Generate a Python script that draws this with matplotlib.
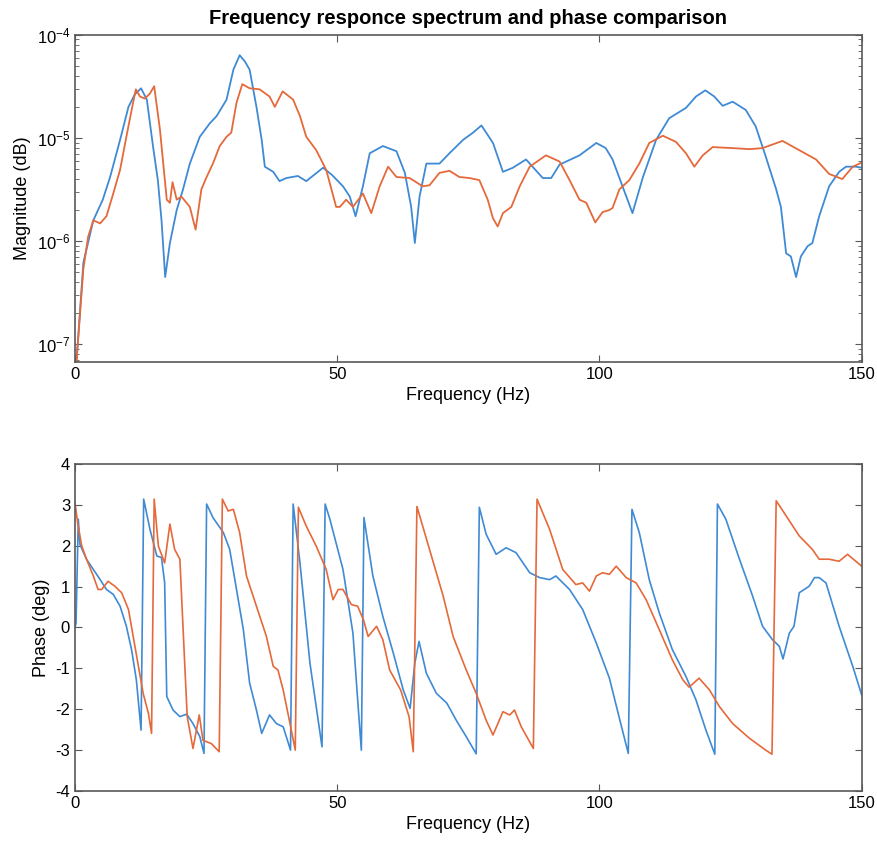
import numpy as np
import matplotlib
matplotlib.use("Agg")
import matplotlib.pyplot as plt
from matplotlib.ticker import LogLocator, NullFormatter, MultipleLocator

plt.rcParams['font.family'] = ['Liberation Sans', 'DejaVu Sans']
plt.rcParams['axes.unicode_minus'] = False

# magnitude, series 1 (blue): frequency (Hz), log10 of magnitude
mag1_f = [0.0, 0.3, 1.6, 3.5, 5.3, 6.7, 8.6, 10.2, 11.4, 12.6, 13.7, 14.9, 15.8, 16.5, 17.2,
          18.1, 19.4, 20.6, 21.9, 23.8, 25.7, 27.0, 28.9, 30.2, 31.4, 32.4, 33.3, 34.6, 35.6,
          36.2, 37.8, 39.0, 40.3, 42.5, 44.1, 47.3, 49.0, 51.1, 52.4, 53.5, 54.9, 56.2, 58.7,
          61.3, 62.9, 64.1, 64.8, 65.7, 67.0, 69.5, 71.4, 74.0, 75.9, 77.5, 79.7, 81.6, 83.5,
          86.0, 89.2, 90.8, 92.4, 96.2, 99.4, 101.2, 102.5, 104.4, 106.3, 108.3, 110.8, 113.3,
          116.5, 118.4, 120.2, 121.9, 123.5, 125.4, 127.9, 129.8, 131.7, 133.7, 134.6, 135.6,
          136.5, 137.5, 138.4, 139.7, 140.6, 141.9, 143.8, 145.7, 147.0, 148.9, 150.0]
mag1_db = [-7.25, -7.16, -6.21, -5.80, -5.60, -5.38, -5.02, -4.70, -4.58, -4.52, -4.63, -5.09,
           -5.41, -5.80, -6.35, -6.02, -5.70, -5.50, -5.25, -4.99, -4.86, -4.79, -4.63, -4.34,
           -4.20, -4.26, -4.34, -4.70, -5.02, -5.28, -5.33, -5.42, -5.39, -5.37, -5.42, -5.29,
           -5.36, -5.47, -5.57, -5.76, -5.47, -5.15, -5.08, -5.13, -5.34, -5.67, -6.02, -5.57,
           -5.25, -5.25, -5.15, -5.02, -4.95, -4.88, -5.05, -5.33, -5.29, -5.21, -5.39, -5.39,
           -5.26, -5.17, -5.05, -5.10, -5.21, -5.47, -5.73, -5.38, -5.02, -4.81, -4.71, -4.60,
           -4.54, -4.60, -4.69, -4.65, -4.73, -4.89, -5.18, -5.50, -5.67, -6.12, -6.15, -6.35,
           -6.15, -6.05, -6.02, -5.76, -5.47, -5.33, -5.28, -5.28, -5.29]

# magnitude, series 2 (orange)
mag2_f = [0.0, 0.3, 1.6, 2.5, 3.5, 4.8, 6.0, 7.3, 8.6, 9.8, 10.8, 11.6, 12.4, 13.3, 14.3, 15.1,
          16.2, 17.5, 18.1, 18.6, 19.4, 20.3, 21.9, 23.0, 24.1, 25.1, 26.3, 27.6, 28.9, 29.8,
          30.8, 31.9, 33.3, 35.2, 37.1, 38.1, 39.6, 41.6, 42.9, 44.1, 46.0, 47.9, 49.8, 50.5,
          51.7, 53.0, 54.9, 56.5, 58.1, 59.7, 61.3, 63.8, 66.3, 67.6, 69.5, 71.4, 73.3, 75.2,
          77.1, 78.7, 79.7, 80.6, 81.6, 83.2, 84.8, 86.7, 89.8, 92.4, 94.3, 96.2, 97.5, 99.2,
          100.6, 101.9, 102.5, 103.8, 105.7, 107.6, 109.5, 112.1, 114.6, 116.5, 118.1, 119.7,
          121.6, 125.4, 128.6, 131.1, 134.9, 138.1, 141.3, 143.8, 146.3, 148.3, 150.0]
mag2_db = [-7.25, -7.16, -6.27, -5.96, -5.80, -5.83, -5.76, -5.54, -5.31, -4.99, -4.73, -4.53,
           -4.60, -4.62, -4.57, -4.50, -4.92, -5.60, -5.63, -5.43, -5.60, -5.57, -5.67, -5.89,
           -5.50, -5.38, -5.25, -5.08, -4.99, -4.95, -4.66, -4.48, -4.52, -4.53, -4.60, -4.70,
           -4.55, -4.63, -4.79, -4.99, -5.12, -5.31, -5.67, -5.67, -5.60, -5.67, -5.54, -5.73,
           -5.47, -5.28, -5.38, -5.39, -5.47, -5.46, -5.34, -5.32, -5.38, -5.39, -5.41, -5.60,
           -5.78, -5.86, -5.73, -5.67, -5.47, -5.28, -5.17, -5.23, -5.41, -5.60, -5.63, -5.82,
           -5.72, -5.70, -5.68, -5.50, -5.41, -5.25, -5.05, -4.98, -5.04, -5.15, -5.28, -5.17,
           -5.09, -5.10, -5.11, -5.10, -5.03, -5.12, -5.21, -5.35, -5.40, -5.28, -5.24]

# phase, series 1 (blue)
ph1_f = [0.0, 0.2, 0.63, 0.95, 2.2, 3.5, 4.8, 6.0, 7.3, 8.6, 9.8, 10.8, 11.7, 12.6, 13.1, 14.3,
         15.6, 16.5, 17.1, 17.5, 18.7, 20.0, 21.3, 22.5, 23.8, 24.6, 25.1, 26.3, 28.3, 29.5,
         30.8, 32.1, 33.3, 34.6, 35.6, 37.1, 38.4, 39.7, 41.1, 41.6, 42.9, 44.8, 47.1, 47.7,
         48.6, 51.1, 53.0, 53.9, 54.6, 55.1, 56.8, 58.7, 60.7, 62.6, 63.9, 64.8, 65.6, 67.0,
         68.9, 70.9, 72.7, 74.6, 76.5, 77.1, 78.4, 80.3, 82.2, 84.1, 86.7, 88.6, 90.5, 91.7,
         94.3, 96.8, 99.4, 101.9, 103.9, 105.5, 106.2, 107.6, 109.5, 111.4, 113.9, 116.5,
         118.4, 120.3, 122.0, 122.5, 124.1, 126.7, 129.2, 131.1, 133.0, 134.3, 135.0, 136.2,
         137.1, 138.1, 140.0, 141.0, 141.9, 143.2, 145.7, 148.3, 150.0]
ph1_deg = [0.0, 0.11, 2.65, 2.03, 1.67, 1.42, 1.17, 0.93, 0.81, 0.52, 0.03, -0.55, -1.28, -2.51,
           3.14, 2.40, 1.75, 1.71, 1.09, -1.69, -2.02, -2.18, -2.12, -2.35, -2.67, -3.08, 3.02,
           2.69, 2.32, 1.91, 0.93, -0.05, -1.36, -2.02, -2.59, -2.14, -2.35, -2.43, -3.0, 3.02,
           1.58, -0.87, -2.92, 3.02, 2.65, 1.42, -0.14, -1.77, -3.0, 2.69, 1.26, 0.27, -0.63,
           -1.53, -1.98, -0.87, -0.34, -1.12, -1.61, -1.85, -2.27, -2.67, -3.09, 2.94, 2.28,
           1.79, 1.95, 1.83, 1.34, 1.22, 1.17, 1.26, 0.93, 0.44, -0.38, -1.24, -2.27, -3.08,
           2.89, 2.32, 1.17, 0.36, -0.54, -1.20, -1.77, -2.51, -3.10, 3.02, 2.65, 1.67, 0.77,
           0.03, -0.30, -0.46, -0.77, -0.14, 0.03, 0.85, 1.01, 1.22, 1.22, 1.09, 0.03, -0.95,
           -1.65]

# phase, series 2 (orange)
ph2_f = [0.0, 0.6, 1.3, 2.2, 3.5, 4.4, 5.1, 6.3, 7.6, 8.9, 10.2, 11.1, 12.1, 13.0, 14.0, 14.6,
         15.1, 15.9, 17.1, 18.1, 19.0, 20.0, 20.8, 21.4, 22.5, 23.7, 24.4, 26.0, 27.5, 28.1,
         29.2, 30.2, 31.4, 32.7, 34.6, 36.5, 37.8, 38.7, 39.7, 41.0, 42.0, 42.6, 44.1, 46.0,
         47.9, 49.2, 50.2, 51.1, 52.7, 53.9, 55.0, 55.9, 57.5, 58.7, 60.0, 62.1, 63.7, 64.5,
         65.2, 67.6, 70.2, 72.1, 74.6, 76.5, 78.4, 79.7, 81.6, 82.9, 83.8, 85.1, 87.4, 88.1,
         90.5, 93.0, 95.5, 96.8, 98.1, 99.4, 100.6, 101.9, 103.2, 105.1, 107.0, 108.9, 111.4,
         113.9, 115.9, 117.1, 119.0, 121.0, 122.9, 125.4, 128.6, 131.7, 132.9, 133.7, 135.6,
         138.1, 140.6, 141.9, 143.8, 145.7, 147.3, 150.0]
ph2_deg = [3.05, 2.48, 1.99, 1.67, 1.26, 0.93, 0.93, 1.13, 1.01, 0.85, 0.44, -0.22, -0.95,
           -1.61, -2.10, -2.59, 3.14, 1.99, 1.58, 2.53, 1.91, 1.67, -0.55, -2.18, -2.96, -2.14,
           -2.76, -2.84, -3.04, 3.14, 2.85, 2.89, 2.32, 1.26, 0.52, -0.22, -0.95, -1.04, -1.53,
           -2.35, -3.0, 2.94, 2.48, 1.99, 1.42, 0.68, 0.93, 0.93, 0.56, 0.52, 0.19, -0.22, 0.03,
           -0.30, -1.04, -1.53, -2.18, -3.04, 2.96, 1.91, 0.77, -0.22, -1.04, -1.61, -2.27,
           -2.63, -2.06, -2.14, -2.02, -2.43, -2.96, 3.14, 2.40, 1.42, 1.05, 1.09, 0.89, 1.26,
           1.34, 1.30, 1.50, 1.22, 1.09, 0.68, -0.05, -0.79, -1.28, -1.46, -1.24, -1.53, -1.94,
           -2.35, -2.71, -3.0, -3.10, 3.10, 2.73, 2.24, 1.91, 1.67, 1.67, 1.62, 1.79, 1.50]

blue = '#3f8ad4'
orange = '#e5693a'
edge = '0.35'

fig = plt.figure(figsize=(8.78, 8.51), dpi=100)
ax1 = fig.add_axes([0.0854, 0.5750, 0.8960, 0.3843])
ax2 = fig.add_axes([0.0854, 0.0705, 0.8960, 0.3843])

ax1.semilogy(mag1_f, np.power(10.0, mag1_db), color=blue, lw=1.3)
ax1.semilogy(mag2_f, np.power(10.0, mag2_db), color=orange, lw=1.3)
ax1.set_xlim(0, 150)
ax1.set_ylim(10 ** -7.17, 1e-4)
ax1.yaxis.set_major_locator(LogLocator(base=10, numticks=10))
ax1.yaxis.set_minor_locator(LogLocator(base=10, subs=np.arange(2, 10), numticks=20))
ax1.yaxis.set_minor_formatter(NullFormatter())
ax1.set_xticks([0, 50, 100, 150])
ax1.set_xlabel('Frequency (Hz)', fontsize=13)
ax1.set_ylabel('Magnitude (dB)', fontsize=13)
ax1.set_title('Frequency responce spectrum and phase comparison', fontsize=14.5,
              fontweight='bold', pad=8)

ax2.plot(ph1_f, ph1_deg, color=blue, lw=1.2)
ax2.plot(ph2_f, ph2_deg, color=orange, lw=1.2)
ax2.set_xlim(0, 150)
ax2.set_ylim(-4, 4)
ax2.yaxis.set_major_locator(MultipleLocator(1))
ax2.set_xticks([0, 50, 100, 150])
ax2.set_xlabel('Frequency (Hz)', fontsize=13)
ax2.set_ylabel('Phase (deg)', fontsize=13)

for ax in (ax1, ax2):
    ax.tick_params(which='both', direction='in', top=True, right=True, labelsize=12,
                   color=edge, labelcolor='black')
    ax.tick_params(which='major', length=5)
    ax.tick_params(which='minor', length=3)
    for s in ax.spines.values():
        s.set_color(edge)
        s.set_linewidth(1.2)

fig.savefig('out.png', dpi=100)
